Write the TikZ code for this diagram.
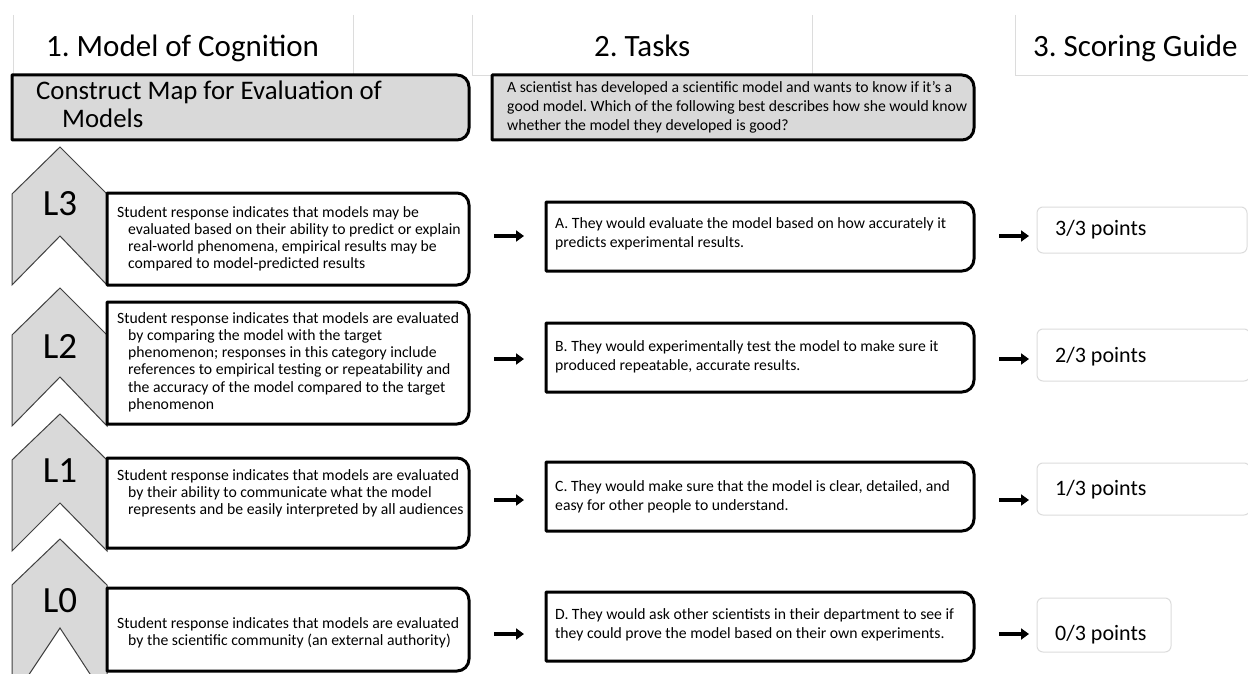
\documentclass[tikz,border=0pt]{standalone}
\usepackage{fontspec}
\setmainfont{Carlito}
\frenchspacing
\usetikzlibrary{calc,arrows.meta}
\definecolor{boxgray}{HTML}{D9D9D9}
\definecolor{faintline}{HTML}{DCDCDC}
\definecolor{chevline}{HTML}{404040}
\newcommand\rrbox[6]{%
  \node[inner sep=0,outer sep=0,minimum width={#4pt-#2pt},minimum height={#5pt-#3pt},anchor=north west] (#1) at (#2,#3) {};
  \draw[#6] (#1.north west) -- ($(#1.north east)+(-12,0)$) arc[start angle=-90,end angle=0,radius=12]
     -- ($(#1.south east)+(0,-12)$) arc[start angle=0,end angle=90,radius=12] -- (#1.south west) -- cycle;}
\newcommand\chev[4]{\draw[chev] (12,#2) -- (60,#1) -- (107,#2) -- (107,#3) -- (60,#4) -- (12,#3) -- cycle;}
\begin{document}
\begin{tikzpicture}[x=1pt,y=-1pt,
  bigbox/.style={draw=black,line width=3pt,fill=boxgray,line join=round},
  whitebox/.style={draw=black,line width=3pt,fill=white,line join=round},
  chev/.style={draw=chevline,line width=1pt,fill=boxgray,line join=miter},
  hdr/.style={font=\fontsize{31}{36}\selectfont,anchor=base west,inner sep=0},
  cmap/.style={font=\fontsize{26.8}{28}\selectfont,anchor=base west,inner sep=0,text width=420pt,align=flush left},
  lvl/.style={font=\fontsize{37}{40}\selectfont,anchor=base,inner sep=0},
  txt/.style={font=\fontsize{15.7}{17.3}\selectfont,anchor=base west,inner sep=0,text width=380pt,align=flush left},
  task/.style={font=\fontsize{15.7}{19}\selectfont,anchor=base west,inner sep=0,text width=460pt,align=flush left},
  pts/.style={font=\fontsize{22}{24}\selectfont,anchor=base west,inner sep=0},
  ptbox/.style={draw=faintline,line width=1pt,fill=white},
  cell/.style={draw=faintline,line width=0.8pt},
  arr/.style={line width=3.2pt,-{Triangle[length=8pt,width=11pt]}}]
\path[use as bounding box,fill=white] (0,0) rectangle (1248,674);
% header cells
\draw[cell] (13,15) -- (13,74);
\draw[cell] (353,15) -- (353,74);
\draw[cell] (472,15) -- (472,75) -- (812,75) -- (812,15);
\draw[cell] (1015,15) -- (1015,75) -- (1248,75);
\node[hdr] (h1) at (46,57) {1. Model of Cognition};
\node[hdr] (h2) at (594,57) {2. Tasks};
\node[hdr] (h3) at (1033,57) {3. Scoring Guide};
% header boxes
\rrbox{cm}{12}{75}{469}{140}{bigbox}
\node[cmap] (cmt) at (36,100) {Construct Map for Evaluation of\\\hspace*{26pt}Models};
\rrbox{tq}{492}{75}{974}{140}{bigbox}
\node[task] (tqt) at (507,93) {A scientist has developed a scientific model and wants to know if it’s a\\good model. Which of the following best describes how she would know\\whether the model they developed is good?};
% chevrons
\chev{147}{194}{285}{236}
\chev{288}{335}{426}{377}
\chev{414}{460}{551}{503}
\chev{539}{585}{700}{628}
\node[lvl] (l3) at (60,215) {L3};
\node[lvl] (l2) at (60,358) {L2};
\node[lvl] (l1) at (60,482) {L1};
\node[lvl] (l0) at (60,612) {L0};
% level boxes
\rrbox{b3}{107}{193}{469}{285}{whitebox}
\node[txt] (b3t) at (117,217) {Student response indicates that models may be\\\hspace*{11pt}evaluated based on their ability to predict or explain\\\hspace*{11pt}real-world phenomena, empirical results may be\\\hspace*{11pt}compared to model-predicted results};
\rrbox{b2}{107}{302}{469}{424}{whitebox}
\node[txt] (b2t) at (117,323) {Student response indicates that models are evaluated\\\hspace*{11pt}by comparing the model with the target\\\hspace*{11pt}phenomenon; responses in this category include\\\hspace*{11pt}references to empirical testing or repeatability and\\\hspace*{11pt}the accuracy of the model compared to the target\\\hspace*{11pt}phenomenon};
\rrbox{b1}{107}{458}{469}{548}{whitebox}
\node[txt] (b1t) at (117,480) {Student response indicates that models are evaluated\\\hspace*{11pt}by their ability to communicate what the model\\\hspace*{11pt}represents and be easily interpreted by all audiences};
\rrbox{b0}{107}{588}{469}{671}{whitebox}
\node[txt] (b0t) at (117,628) {Student response indicates that models are evaluated\\\hspace*{11pt}by the scientific community (an external authority)};
% task boxes
\rrbox{ta}{546}{202}{974}{271}{whitebox}
\node[task] (tat) at (555,228) {A. They would evaluate the model based on how accurately it\\predicts experimental results.};
\rrbox{tb}{546}{323}{974}{392}{whitebox}
\node[task] (tbt) at (555,351) {B. They would experimentally test the model to make sure it\\produced repeatable, accurate results.};
\rrbox{tc}{546}{462}{974}{531}{whitebox}
\node[task] (tct) at (555,491) {C. They would make sure that the model is clear, detailed, and\\easy for other people to understand.};
\rrbox{td}{546}{592}{974}{661}{whitebox}
\node[task] (tdt) at (555,619) {D. They would ask other scientists in their department to see if\\they could prove the model based on their own experiments.};
% point boxes
\draw[ptbox,rounded corners=6pt] (1037,207) rectangle (1247,253);
\node[pts] (p3) at (1055,235) {3/3 points};
\draw[ptbox,rounded corners=6pt] (1037,329) rectangle (1250,381);
\node[pts] (p2) at (1055,362) {2/3 points};
\draw[ptbox,rounded corners=6pt] (1037,463) rectangle (1250,515);
\node[pts] (p1) at (1055,495) {1/3 points};
\draw[ptbox,rounded corners=6pt] (1037,598) rectangle (1171,652);
\node[pts] (p0) at (1055,640) {0/3 points};
% arrows
\foreach \y/\n in {236/a,359/b,500/c,634/d}{
  \coordinate (L\n1) at (494,\y); \coordinate (L\n2) at (524,\y);
  \coordinate (R\n1) at (999,\y); \coordinate (R\n2) at (1029,\y);
  \draw[arr] (L\n1) -- (L\n2);
  \draw[arr] (R\n1) -- (R\n2);
}
\end{tikzpicture}
\end{document}
